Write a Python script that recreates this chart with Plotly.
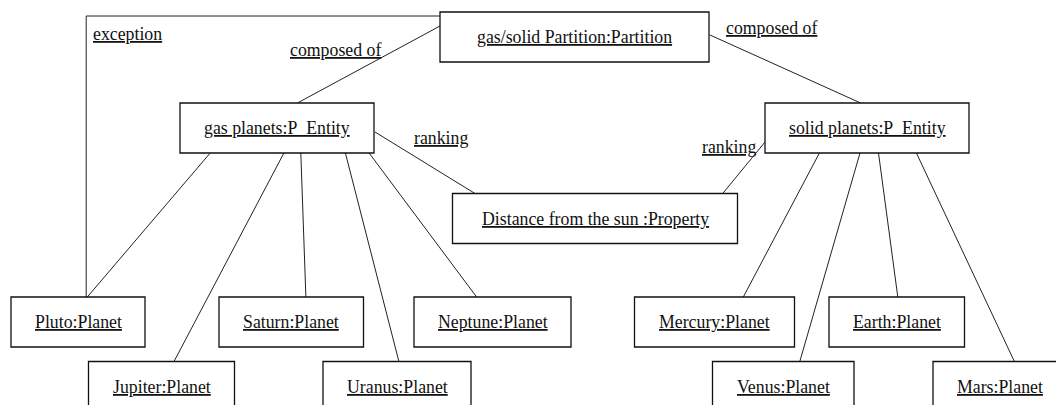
import plotly.graph_objects as go

# Object nodes (UML object diagram) – box extents in pixel space of the 1056x405 canvas
node_labels = [
    "gas/solid Partition:Partition",
    "gas planets:P_Entity",
    "solid planets:P_Entity",
    "Distance from the sun :Property",
    "Pluto:Planet",
    "Saturn:Planet",
    "Neptune:Planet",
    "Mercury:Planet",
    "Earth:Planet",
    "Jupiter:Planet",
    "Uranus:Planet",
    "Venus:Planet",
    "Mars:Planet",
]
node_x0 = [440, 180, 765, 452.5, 11, 219, 414, 634.5, 829, 88.5, 323, 712.5, 933]
node_x1 = [709, 374, 969, 737.5, 145, 363.5, 571, 794.5, 964.5, 234.5, 471, 854, 1067.5]
node_y0 = [12, 103, 103, 193.5, 297, 297, 297, 297, 297, 361.5, 361.5, 361.5, 361.5]
node_y1 = [62, 153, 153, 243.5, 347, 347, 347, 347, 347, 412, 412, 412, 412]

# Links (polylines) between objects
edge_x = [
    [440, 297.4], [710, 860.6], [440, 86.2, 86.2], [375, 475], [765, 722.7],
    [210.2, 87.3], [283.9, 174], [300.8, 305.9], [345.4, 398.9], [369.1, 476.6],
    [819.4, 743.3], [860, 799.8], [878.5, 897.8], [916.4, 1014.4],
]
edge_y = [
    [26, 103], [35, 103], [16, 16, 297], [132, 193.5], [142, 193.5],
    [153, 297], [153, 361.5], [153, 297], [153, 361.5], [153, 297],
    [153, 297], [153, 361.5], [153, 297], [153, 361.5],
]

# Link labels
link_labels = ["exception", "composed of", "composed of", "ranking", "ranking"]
link_label_x = [127.2, 335.5, 771.2, 440.6, 728.8]
link_label_y = [33.5, 49.5, 27.5, 138.3, 146.7]

FONT = dict(family="Liberation Serif", size=17.8, color="#111111")

fig = go.Figure()

for xs, ys in zip(edge_x, edge_y):
    fig.add_trace(go.Scatter(x=xs, y=ys, mode="lines",
                             line=dict(color="#222222", width=1),
                             hoverinfo="skip", showlegend=False))

for lab, x0, x1, y0, y1 in zip(node_labels, node_x0, node_x1, node_y0, node_y1):
    fig.add_shape(type="rect", xref="x", yref="y", x0=x0, x1=x1, y0=y0, y1=y1,
                  line=dict(color="#111111", width=1.3), fillcolor="white", layer="above")
    fig.add_annotation(x=(x0 + x1) / 2, y=(y0 + y1) / 2, xref="x", yref="y",
                       text="<u>" + lab + "</u>", showarrow=False,
                       xanchor="center", yanchor="middle", font=FONT)

for lab, x, y in zip(link_labels, link_label_x, link_label_y):
    fig.add_annotation(x=x, y=y, xref="x", yref="y", text="<u>" + lab + "</u>",
                       showarrow=False, xanchor="center", yanchor="middle", font=FONT)

fig.update_layout(
    width=1056, height=405,
    margin=dict(l=0, r=0, t=0, b=0),
    paper_bgcolor="white", plot_bgcolor="white",
    font=FONT,
    xaxis=dict(range=[0, 1056], visible=False, fixedrange=True),
    yaxis=dict(range=[405, 0], visible=False, fixedrange=True),
    showlegend=False,
)

fig.write_html("out.html", config={"displayModeBar": False},
               post_script="document.body.style.margin='0';document.body.style.overflow='hidden';")
